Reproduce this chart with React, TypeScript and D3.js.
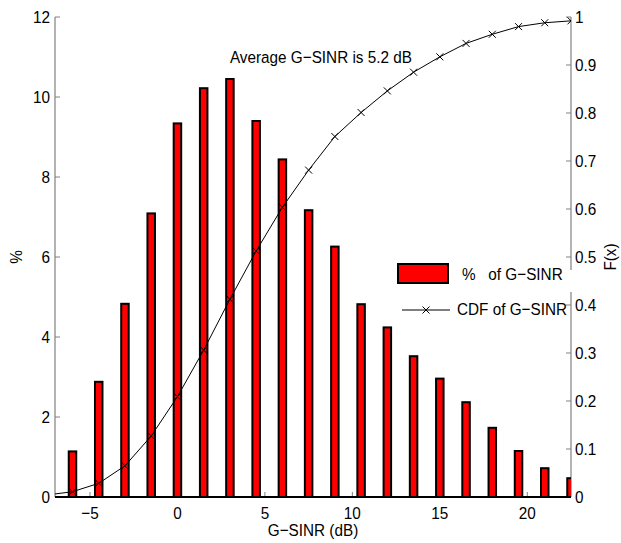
import React from "react";
import * as d3 from "d3";

const binCenters = [-6, -4.5, -3, -1.5, 0, 1.5, 3, 4.5, 6, 7.5, 9, 10.5, 12, 13.5, 15, 16.5, 18, 19.5, 21, 22.5];
const pctValues = [1.14, 2.88, 4.83, 7.09, 9.34, 10.22, 10.45, 9.4, 8.44, 7.17, 6.26, 4.82, 4.24, 3.52, 2.96, 2.37, 1.73, 1.15, 0.72, 0.47];
const cdfX = [-7.5, -6, -4.5, -3, -1.5, 0, 1.5, 3, 4.5, 6, 7.5, 9, 10.5, 12, 13.5, 15, 16.5, 18, 19.5, 21, 22.5];
const cdfValues = [0.004, 0.011, 0.0285, 0.065, 0.127, 0.209, 0.306, 0.412, 0.5125, 0.6035, 0.681, 0.751, 0.801, 0.846, 0.885, 0.917, 0.945, 0.964, 0.98, 0.988, 0.992];
const xTicks = [-5, 0, 5, 10, 15, 20];
const yLeftTicks = [0, 2, 4, 6, 8, 10, 12];
const yRightTicks = [0, 0.1, 0.2, 0.3, 0.4, 0.5, 0.6, 0.7, 0.8, 0.9, 1];
const annotation = "Average G\u2212SINR is 5.2 dB";
const xLabel = "G\u2212SINR (dB)";
const yLeftLabel = "%";
const yRightLabel = "F(x)";
const legendBar = "%   of G\u2212SINR";
const legendLine = "CDF of G\u2212SINR";

const L = 55, R = 571, T = 17, B = 497;
const FONT = "'Liberation Sans', Arial, Helvetica, sans-serif";
const FS = 15.3;
const SY = 1.13;
const GREY = "#808080";

function Txt(props: { x: number; y: number; rot?: number; anchor?: string; baseline?: string; children: any; pre?: boolean }) {
  const { x, y, rot = 0, anchor = "start", baseline, children, pre } = props;
  return (
    <g transform={`translate(${x},${y}) rotate(${rot}) scale(1,${SY})`}>
      <text x={0} y={0} textAnchor={anchor} dominantBaseline={baseline} fontSize={FS} style={pre ? { whiteSpace: "pre" } : undefined}>
        {children}
      </text>
    </g>
  );
}

export default function App() {
  const x = d3.scaleLinear().domain([-7, 22.5]).range([L, R]);
  const yL = d3.scaleLinear().domain([0, 12]).range([B, T]);
  const yR = d3.scaleLinear().domain([0, 1]).range([B, T]);
  const barW = 7.5;
  const line = d3.line<number>().x((_, i) => x(cdfX[i])).y((d) => yR(d));
  const m = 3.5;
  const cross = (cx: number, cy: number, k: string) => (
    <path key={k} d={`M${cx - m},${cy - m}L${cx + m},${cy + m}M${cx - m},${cy + m}L${cx + m},${cy - m}`} stroke="#000" strokeWidth={1} fill="none" />
  );
  return (
    <svg width={621} height={543} style={{ position: "absolute", left: 0, top: 0, background: "#fff" }} fontFamily={FONT}>
      <defs>
        <clipPath id="plot">
          <rect x={L} y={T - 5} width={R - L} height={B - T + 5} />
        </clipPath>
      </defs>
      <rect x={0} y={0} width={621} height={543} fill="#fff" />
      <line x1={L} x2={L} y1={T} y2={B} stroke={GREY} strokeWidth={1.2} />
      <line x1={R} x2={R} y1={T} y2={B} stroke={GREY} strokeWidth={1.2} />
      {yLeftTicks.map((t) => (
        <g key={"yl" + t}>
          <line x1={L} x2={L + 5} y1={yL(t)} y2={yL(t)} stroke={GREY} strokeWidth={1} />
          <Txt x={L - 5} y={yL(t)} anchor="end" baseline="central">{t}</Txt>
        </g>
      ))}
      {yRightTicks.map((t) => (
        <g key={"yr" + t}>
          <line x1={R - 5} x2={R} y1={yR(t)} y2={yR(t)} stroke={GREY} strokeWidth={1} />
          <Txt x={R + 4} y={yR(t)} anchor="start" baseline="central">{t}</Txt>
        </g>
      ))}
      {xTicks.map((t) => (
        <g key={"x" + t}>
          <line x1={x(t)} x2={x(t)} y1={B} y2={B - 5} stroke={GREY} strokeWidth={1} />
          <Txt x={x(t)} y={B + 22} anchor="middle">{String(t).replace("-", "\u2212")}</Txt>
        </g>
      ))}
      <g clipPath="url(#plot)">
        {binCenters.map((c, i) => (
          <rect key={"b" + i} x={x(c) - barW / 2} y={yL(pctValues[i])} width={barW} height={yL(0) - yL(pctValues[i])} fill="#ff0000" stroke="#000" strokeWidth={2} />
        ))}
        <path d={line(cdfValues) || ""} fill="none" stroke="#000" strokeWidth={1} />
        {cdfValues.map((v, i) => cross(x(cdfX[i]), yR(v), "c" + i))}
      </g>
      <line x1={L} x2={R} y1={B} y2={B} stroke="#000" strokeWidth={2} />
      <Txt x={x(3)} y={yL(11)} baseline="central">{annotation}</Txt>
      <rect x={566} y={270} width={9} height={22} fill="#fff" />
      <rect x={398} y={264} width={50} height={19} fill="#ff0000" stroke="#000" strokeWidth={2} />
      <Txt x={462} y={280} pre>{legendBar}</Txt>
      <line x1={402} x2={450} y1={310} y2={310} stroke="#000" strokeWidth={1} />
      {cross(426, 310, "lg")}
      <Txt x={457} y={315}>{legendLine}</Txt>
      <Txt x={(L + R) / 2} y={536} anchor="middle">{xLabel}</Txt>
      <Txt x={16} y={(T + B) / 2} rot={-90} anchor="middle" baseline="central">{yLeftLabel}</Txt>
      <Txt x={610} y={(T + B) / 2} rot={-90} anchor="middle" baseline="central">{yRightLabel}</Txt>
    </svg>
  );
}
